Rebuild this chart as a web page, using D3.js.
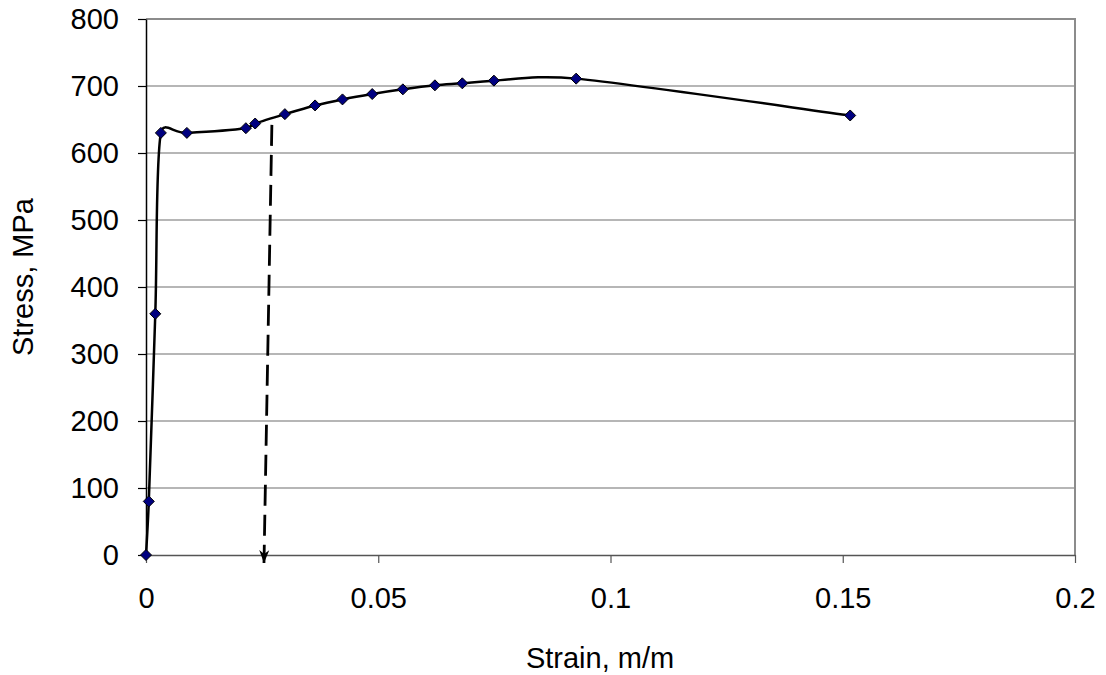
<!DOCTYPE html>
<html><head><meta charset="utf-8">
<script src="https://cdn.jsdelivr.net/npm/d3@7"></script>
<style>
html,body{margin:0;padding:0;background:#fff;}
text{font-family:"Liberation Sans",Arial,sans-serif;fill:#000;}
</style></head>
<body>
<svg id="chart" width="1106" height="675"></svg>
<script>
// Data
const strain = [0, 0.0006, 0.002, 0.0032, 0.0088, 0.0215, 0.0235, 0.0299, 0.0364, 0.0423, 0.0487, 0.0553, 0.0622, 0.0681, 0.0749, 0.0926, 0.1516];
const stress = [0, 80, 360, 630, 630, 637, 644, 658, 671, 680, 688, 695, 701, 704, 708, 711, 656];
const xTicks = [0, 0.05, 0.1, 0.15, 0.2];
const yTicks = [0, 100, 200, 300, 400, 500, 600, 700, 800];
const arrowStrain = [0.0271, 0.0254];
const arrowStress = [642, -12];
const xTitle = "Strain, m/m";
const yTitle = "Stress, MPa";

const svg = d3.select("#chart");
const x = d3.scaleLinear().domain([0, 0.2]).range([146, 1075]);
const y = d3.scaleLinear().domain([0, 800]).range([555, 19]);
const FS = 29;

// gridlines
svg.append("g").selectAll("line").data(yTicks.filter(d => d > 0)).join("line")
  .attr("x1", x(0)).attr("x2", x(0.2)).attr("y1", d => y(d)).attr("y2", d => y(d))
  .attr("stroke", d => d === 800 ? "#8c8c8c" : "#6e6e6e").attr("stroke-width", d => d === 800 ? 2 : 1.2);
// right border
svg.append("line").attr("x1", x(0.2)).attr("x2", x(0.2)).attr("y1", y(800) - 1).attr("y2", y(0))
  .attr("stroke", "#8c8c8c").attr("stroke-width", 2);

// x axis
const xAxis = svg.append("g").attr("transform", `translate(0,${y(0)})`)
  .call(d3.axisBottom(x).tickValues(xTicks).tickFormat(d => d3.format("")(d)).tickSizeOuter(0).tickSizeInner(8).tickPadding(24));
xAxis.select(".domain").attr("stroke", "#555").attr("stroke-width", 1.5);
xAxis.selectAll(".tick line").attr("stroke", "#555").attr("stroke-width", 1.2);
xAxis.selectAll("text").attr("font-size", FS).attr("font-family", "Liberation Sans, Arial, sans-serif");

// y axis
const yAxis = svg.append("g").attr("transform", `translate(${x(0)},0)`)
  .call(d3.axisLeft(y).tickValues(yTicks).tickSizeOuter(0).tickSizeInner(8).tickPadding(19));
yAxis.select(".domain").attr("stroke", "#000").attr("stroke-width", 1.5);
yAxis.selectAll(".tick line").attr("stroke", "#000").attr("stroke-width", 1.2);
yAxis.selectAll("text").attr("font-size", FS).attr("font-family", "Liberation Sans, Arial, sans-serif");

// titles
svg.append("text").attr("x", 600).attr("y", 668).attr("text-anchor", "middle").attr("font-size", FS).text(xTitle);
svg.append("text").attr("transform", "translate(33,277) rotate(-90)").attr("text-anchor", "middle").attr("font-size", FS).text(yTitle);

// arrow marker
svg.append("defs").append("marker").attr("id", "arr").attr("viewBox", "0 -6 13 12")
  .attr("refX", 13).attr("refY", 0).attr("markerWidth", 13).attr("markerHeight", 12)
  .attr("markerUnits", "userSpaceOnUse").attr("orient", "auto")
  .append("path").attr("d", "M0,-5 L13,0 L0,5 L4,0 Z").attr("fill", "#000");
// dashed arrow
svg.append("line")
  .attr("x1", x(arrowStrain[0])).attr("y1", y(arrowStress[0]))
  .attr("x2", x(arrowStrain[1])).attr("y2", y(arrowStress[1]))
  .attr("stroke", "#000").attr("stroke-width", 2.8).attr("stroke-dasharray", "21,9")
  .attr("marker-end", "url(#arr)");

// Excel-like smoothed line (Bezier with limited Catmull-Rom tangents)
function smoothPath(p) {
  const n = p.length, path = d3.path();
  const off = p.map((pt, i) => {
    const a = p[Math.max(0, i - 1)], b = p[Math.min(n - 1, i + 1)];
    return [(b[0] - a[0]) / 6, (b[1] - a[1]) / 6];
  });
  const lim = (o, L) => {
    const len = Math.hypot(o[0], o[1]), m = 0.5 * L;
    return len > m ? [o[0] * m / len, o[1] * m / len] : o;
  };
  path.moveTo(p[0][0], p[0][1]);
  for (let i = 0; i < n - 1; i++) {
    const L = Math.hypot(p[i + 1][0] - p[i][0], p[i + 1][1] - p[i][1]);
    const o1 = lim(off[i], L), o2 = lim(off[i + 1], L);
    path.bezierCurveTo(p[i][0] + o1[0], p[i][1] + o1[1], p[i + 1][0] - o2[0], p[i + 1][1] - o2[1], p[i + 1][0], p[i + 1][1]);
  }
  return path.toString();
}
const pts = strain.map((s, i) => [s, stress[i]]);
const px = pts.map(d => [x(d[0]), y(d[1])]);
svg.append("path").attr("d", smoothPath(px)).attr("fill", "none").attr("stroke", "#000").attr("stroke-width", 2.5);

// markers
svg.append("g").selectAll("path").data(pts).join("path")
  .attr("transform", d => `translate(${x(d[0])},${y(d[1])})`)
  .attr("d", "M0,-5.5 L5.5,0 L0,5.5 L-5.5,0 Z")
  .attr("fill", "#000080").attr("stroke", "#000").attr("stroke-width", 1);
</script>
</body></html>
